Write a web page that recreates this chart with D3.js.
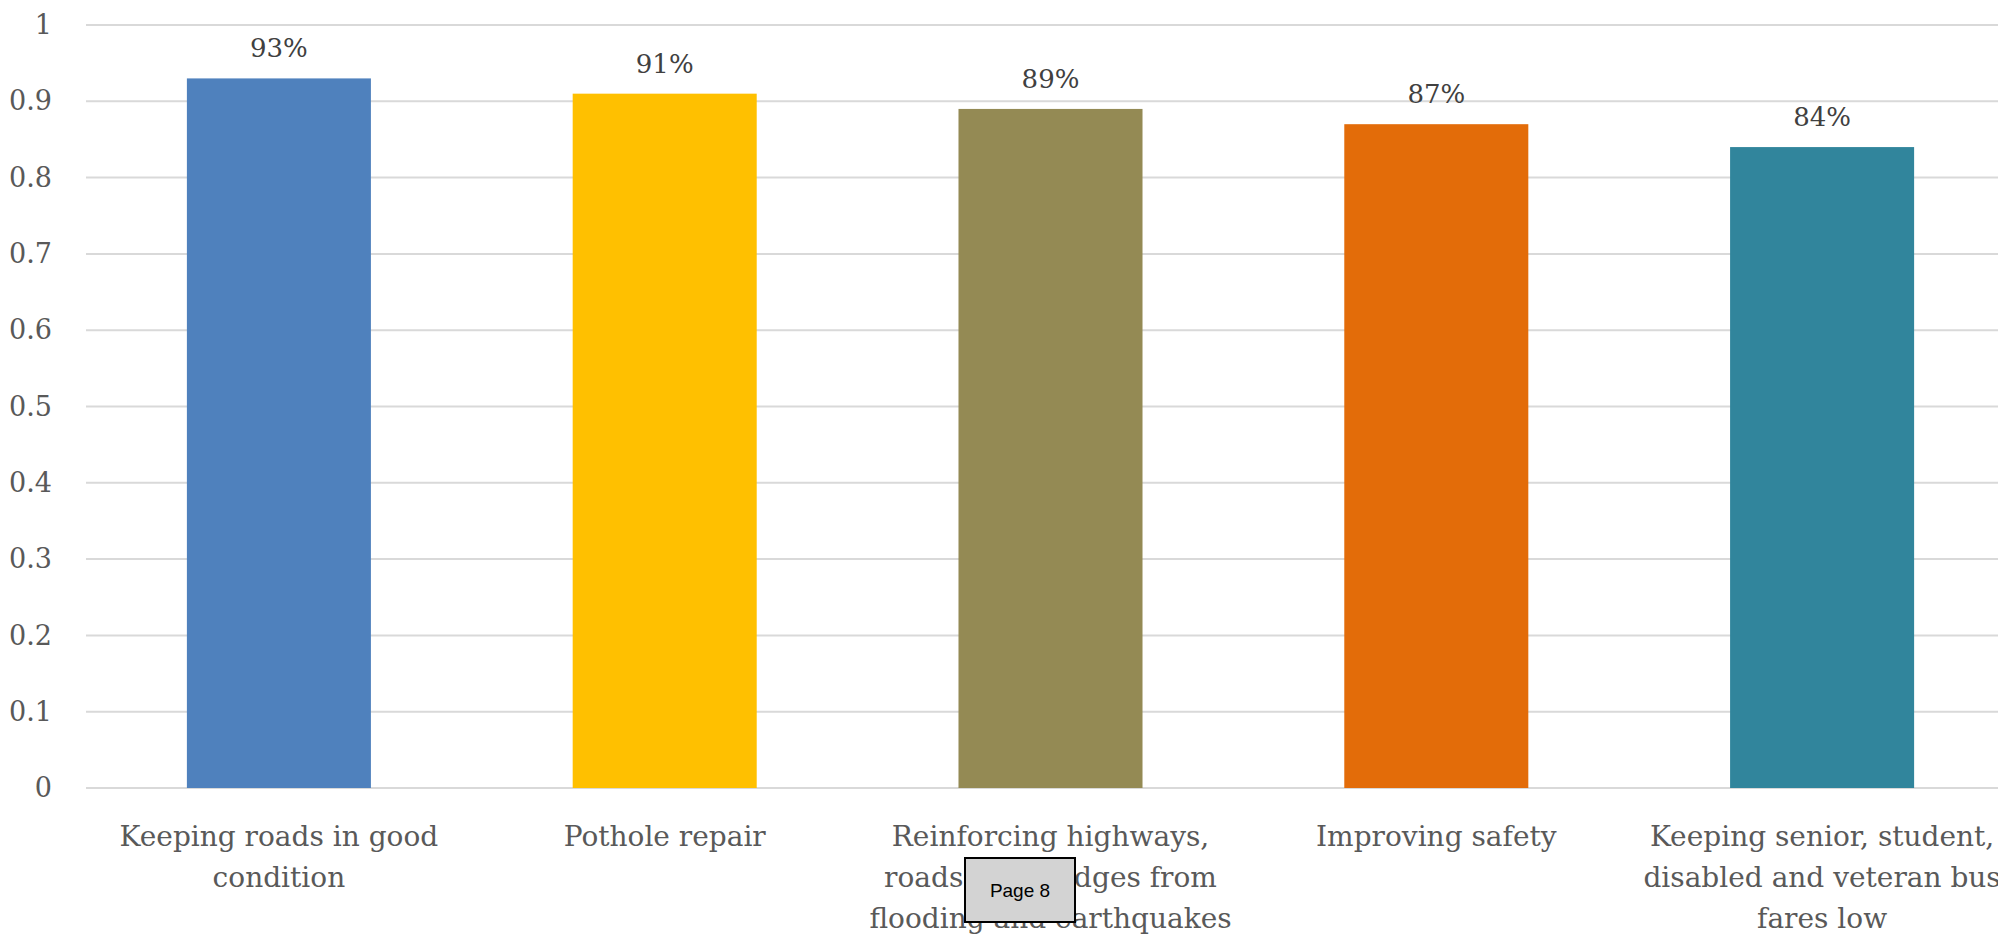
<!DOCTYPE html>
<meta charset="utf-8">
<style>
body { margin: 0; background: #fff; }
.tick text { font-family: "DejaVu Serif", serif; fill: #595959; }
.bar-label { font: 26px "DejaVu Serif", serif; fill: #404040; text-anchor: middle; }
.cat-label { font: 28px "DejaVu Serif", serif; fill: #595959; text-anchor: middle; }
</style>
<body>
<script src="https://cdn.jsdelivr.net/npm/d3@7"></script>
<script>

var categories = [
  "Keeping roads in good\ncondition",
  "Pothole repair",
  "Reinforcing highways,\nroads and bridges from\nflooding and earthquakes",
  "Improving safety",
  "Keeping senior, student,\ndisabled and veteran bus\nfares low"
];
var values = [0.93, 0.91, 0.89, 0.87, 0.84];
var colors = ["#4f81bd", "#ffc000", "#948a54", "#e36c09", "#31859c"];
var yTicks = [0, 0.1, 0.2, 0.3, 0.4, 0.5, 0.6, 0.7, 0.8, 0.9, 1];

var width = 1998,
    height = 937;

var svg = d3.select("body").append("svg")
    .attr("width", width)
    .attr("height", height);

var x = d3.scaleBand()
    .domain(categories)
    .range([86, 2015])
    .paddingInner(0.523)
    .paddingOuter(0.2615);

var y = d3.scaleLinear()
    .domain([0, 1])
    .range([788, 25]);

// gridlines
svg.append("g")
  .selectAll("line")
    .data(yTicks)
  .enter().append("line")
    .attr("x1", 86)
    .attr("x2", width)
    .attr("y1", function(d) { return y(d); })
    .attr("y2", function(d) { return y(d); })
    .attr("stroke", "#d9d9d9")
    .attr("stroke-width", 2);

// y axis labels
var yAxis = svg.append("g")
    .attr("transform", "translate(86,0)")
    .call(d3.axisLeft(y).tickValues(yTicks).tickFormat(d3.format("")).tickSize(0).tickPadding(34));
yAxis.select(".domain").remove();
yAxis.selectAll("text").style("font-size", "27px");

// bars
svg.append("g")
  .selectAll("rect")
    .data(values)
  .enter().append("rect")
    .attr("x", function(d, i) { return x(categories[i]); })
    .attr("y", function(d) { return y(d); })
    .attr("width", x.bandwidth())
    .attr("height", function(d) { return y(0) - y(d); })
    .attr("fill", function(d, i) { return colors[i]; });

// value labels
svg.append("g")
  .selectAll("text")
    .data(values)
  .enter().append("text")
    .attr("class", "bar-label")
    .attr("x", function(d, i) { return x(categories[i]) + x.bandwidth() / 2; })
    .attr("y", function(d) { return y(d) - 21; })
    .text(function(d) { return d3.format(".0%")(d); });

// category labels
var cat = svg.append("g")
  .selectAll("text")
    .data(categories)
  .enter().append("text")
    .attr("class", "cat-label")
    .attr("x", function(d) { return x(d) + x.bandwidth() / 2; })
    .attr("y", 846);

cat.selectAll("tspan")
    .data(function(d) { return d.split("\n"); })
  .enter().append("tspan")
    .attr("x", function() { return d3.select(this.parentNode).attr("x"); })
    .attr("dy", function(d, i) { return i ? 41 : 0; })
    .text(function(d) { return d; });

// page marker overlay
var page = svg.append("g");
page.append("rect")
    .attr("x", 965).attr("y", 858)
    .attr("width", 110).attr("height", 64)
    .attr("fill", "#d3d3d3")
    .attr("stroke", "#000")
    .attr("stroke-width", 2);
page.append("text")
    .attr("x", 1020).attr("y", 897)
    .attr("text-anchor", "middle")
    .style("font", "19px 'Liberation Sans', Arial, sans-serif")
    .attr("fill", "#000")
    .text("Page 8");

</script>
